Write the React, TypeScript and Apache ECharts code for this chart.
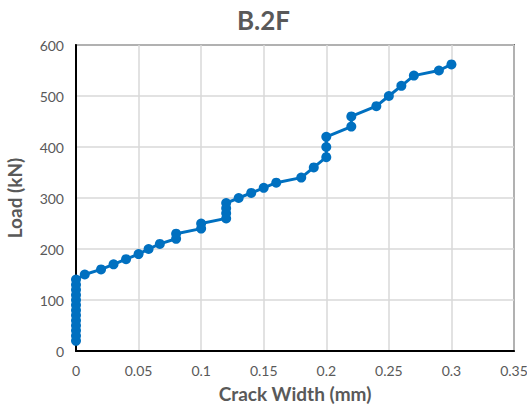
import React, { useEffect, useRef } from "react";
import * as echarts from "echarts";

// Load vs crack width readings for specimen B.2F
const crackWidth = [
  0, 0, 0, 0, 0, 0, 0, 0, 0, 0, 0, 0, 0,
  0.007, 0.02, 0.03, 0.04, 0.05, 0.058, 0.067, 0.08, 0.08, 0.1, 0.1,
  0.12, 0.12, 0.12, 0.12, 0.13, 0.14, 0.15, 0.16, 0.18, 0.19,
  0.2, 0.2, 0.2, 0.22, 0.22, 0.24, 0.25, 0.26, 0.27, 0.29, 0.3,
];
const load = [
  20, 30, 40, 50, 60, 70, 80, 90, 100, 110, 120, 130, 140,
  150, 160, 170, 180, 190, 200, 210, 220, 230, 240, 250,
  260, 270, 280, 290, 300, 310, 320, 330, 340, 360,
  380, 400, 420, 440, 460, 480, 500, 520, 540, 550, 562,
];

const xTicks = { min: 0, max: 0.35, interval: 0.05 };
const yTicks = { min: 0, max: 600, interval: 100 };

const FONT = "Lato, 'Open Sans', sans-serif";
const GREY = "#595959";

export default function App() {
  const ref = useRef<HTMLDivElement>(null);

  useEffect(() => {
    if (!ref.current) return;
    const chart = echarts.init(ref.current, undefined, { renderer: "svg" });
    chart.setOption({
      animation: false,
      backgroundColor: "#ffffff",
      title: {
        text: "B.2F",
        left: "center",
        top: 2,
        textStyle: { fontFamily: FONT, fontSize: 26, fontWeight: "bold", color: GREY },
      },
      grid: {
        left: 76,
        right: 13,
        top: 45,
        bottom: 57,
        outerBoundsMode: "none",
        containLabel: false,
        show: true,
        borderColor: "#000",
        borderWidth: 1.5,
      },
      xAxis: {
        type: "value",
        min: xTicks.min,
        max: xTicks.max,
        interval: xTicks.interval,
        name: "Crack Width (mm)",
        nameLocation: "middle",
        nameGap: 33,
        nameTextStyle: { fontFamily: FONT, fontSize: 19, fontWeight: "bold", color: GREY },
        axisLine: { show: true, lineStyle: { color: "#000", width: 2 } },
        axisTick: { show: false },
        axisLabel: { fontFamily: FONT, fontSize: 14, color: GREY, margin: 12 },
        splitLine: { show: true, lineStyle: { color: "#d9d9d9", width: 1.5 } },
      },
      yAxis: {
        type: "value",
        min: yTicks.min,
        max: yTicks.max,
        interval: yTicks.interval,
        name: "Load (kN)",
        nameLocation: "middle",
        nameGap: 52,
        nameTextStyle: { fontFamily: FONT, fontSize: 19, fontWeight: "bold", color: GREY },
        axisLine: { show: true, lineStyle: { color: "#000", width: 2 } },
        axisTick: { show: false },
        axisLabel: { fontFamily: FONT, fontSize: 14, color: GREY, margin: 12 },
        splitLine: { show: true, lineStyle: { color: "#d9d9d9", width: 1.5 } },
      },
      series: [
        {
          type: "line",
          data: crackWidth.map((c, i) => [c, load[i]]),
          symbol: "circle",
          symbolSize: 10,
          lineStyle: { color: "#0070C0", width: 3 },
          itemStyle: { color: "#0070C0" },
          clip: false,
        },
      ],
    });
    return () => chart.dispose();
  }, []);

  return (
    <div
      ref={ref}
      style={{ position: "fixed", left: 0, top: 0, width: 527, height: 408 }}
    />
  );
}
